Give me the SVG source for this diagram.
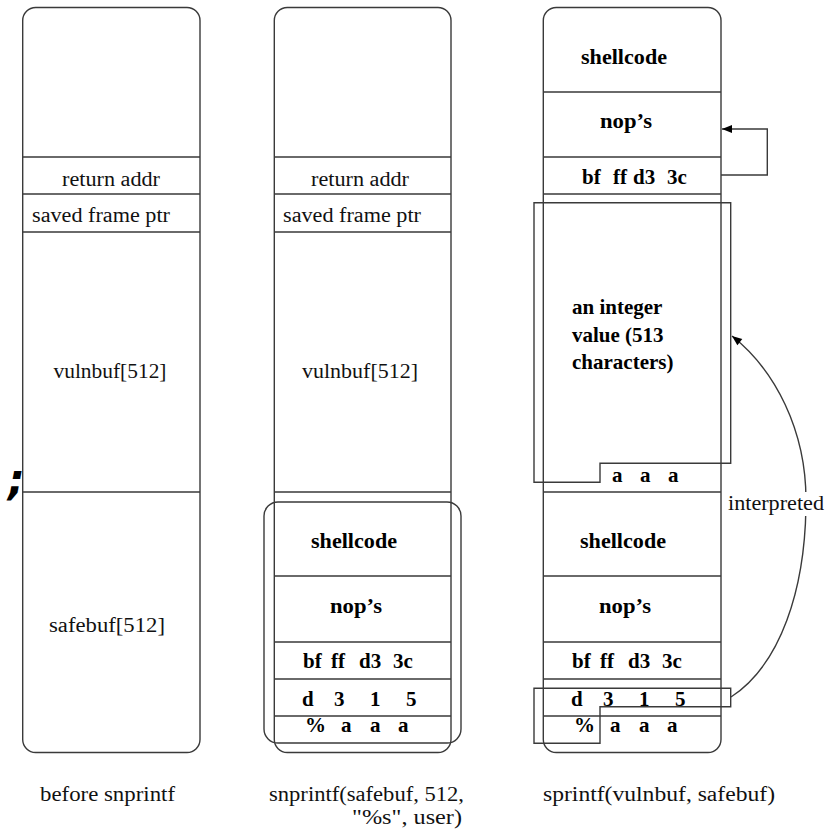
<svg xmlns="http://www.w3.org/2000/svg" width="834" height="832" viewBox="0 0 834 832">
<defs>
<style>
.col{fill:#fff;stroke:#3a3a3a;stroke-width:1.4}
.div{stroke:#3a3a3a;stroke-width:1.4;fill:none}
.ov{fill:none;stroke:#3a3a3a;stroke-width:1.4}
.r{font-family:"Liberation Serif","Times New Roman",serif;font-size:20px;fill:#111}
.b{font-family:"Liberation Serif","Times New Roman",serif;font-size:21px;font-weight:bold;fill:#000}
.m{text-anchor:middle}
</style>
<marker id="ah" viewBox="0 0 10 10" refX="10" refY="5" markerWidth="16" markerHeight="10" markerUnits="userSpaceOnUse" orient="auto">
<path d="M0,1 L10,5 L0,9 z" fill="#000"/>
</marker>
</defs>
<rect width="834" height="832" fill="#fff"/>
<text x="8" y="494" style="font-family:'DejaVu Sans',sans-serif;font-size:42px;font-weight:bold;font-style:italic" fill="#000">;</text>

<g id="col1">
<rect class="col" x="22.7" y="7.5" width="177.3" height="745" rx="13"/>
<path class="div" d="M22.7 157H200M22.7 194H200M22.7 232H200M22.7 492H200"/>
<text class="r m" x="111" y="186" textLength="98" lengthAdjust="spacingAndGlyphs">return addr</text>
<text class="r m" x="101" y="222" textLength="138" lengthAdjust="spacingAndGlyphs">saved frame ptr</text>
<text class="r m" x="110" y="378" textLength="113" lengthAdjust="spacingAndGlyphs">vulnbuf[512]</text>
<text class="r m" x="107" y="632" textLength="116" lengthAdjust="spacingAndGlyphs">safebuf[512]</text>
</g>

<g id="col2">
<rect class="col" x="274.3" y="7.5" width="176.7" height="745" rx="13"/>
<path class="div" d="M274.3 157H451M274.3 194H451M274.3 232H451M274.3 492H451M274.3 576H451M274.3 642H451M274.3 679H451M274.3 716H451"/>
<text class="r m" x="360" y="186" textLength="98" lengthAdjust="spacingAndGlyphs">return addr</text>
<text class="r m" x="352" y="222" textLength="138" lengthAdjust="spacingAndGlyphs">saved frame ptr</text>
<text class="r m" x="360" y="378" textLength="116" lengthAdjust="spacingAndGlyphs">vulnbuf[512]</text>
<text class="b m" x="354" y="548" textLength="86" lengthAdjust="spacingAndGlyphs">shellcode</text>
<text class="b m" x="356" y="613" textLength="52" lengthAdjust="spacingAndGlyphs">nop’s</text>
<text class="b" x="303" y="668">bf</text>
<text class="b" x="331" y="668">ff</text>
<text class="b" x="359" y="668">d3</text>
<text class="b" x="393" y="668">3c</text>
<text class="b" x="302" y="706">d</text>
<text class="b" x="334" y="706">3</text>
<text class="b" x="370" y="706">1</text>
<text class="b" x="406" y="706">5</text>
<text class="b" x="305" y="732">%</text>
<text class="b" x="341" y="732">a</text>
<text class="b" x="370" y="732">a</text>
<text class="b" x="398" y="732">a</text>
<rect class="ov" x="264" y="502" width="197" height="241" rx="14"/>
</g>

<g id="col3">
<rect class="col" x="543.3" y="7.5" width="177.7" height="745" rx="13"/>
<path class="div" d="M543.3 92H721M543.3 157H721M543.3 194H721M543.3 492H721M543.3 576H721M543.3 642H721M543.3 679H721M543.3 716H721"/>
<text class="b m" x="624" y="64" textLength="86" lengthAdjust="spacingAndGlyphs">shellcode</text>
<text class="b m" x="626" y="128" textLength="52" lengthAdjust="spacingAndGlyphs">nop’s</text>
<text class="b" x="582" y="184">bf</text>
<text class="b" x="613" y="184">ff</text>
<text class="b" x="633" y="184">d3</text>
<text class="b" x="667" y="184">3c</text>
<text class="b" x="572" y="314">an integer</text>
<text class="b" x="572" y="342">value (513</text>
<text class="b" x="572" y="369">characters)</text>
<text class="b" x="612" y="482">a</text>
<text class="b" x="640" y="482">a</text>
<text class="b" x="668" y="482">a</text>
<text class="b m" x="623" y="548" textLength="86" lengthAdjust="spacingAndGlyphs">shellcode</text>
<text class="b m" x="625" y="613" textLength="52" lengthAdjust="spacingAndGlyphs">nop’s</text>
<text class="b" x="572" y="668">bf</text>
<text class="b" x="600" y="668">ff</text>
<text class="b" x="628" y="668">d3</text>
<text class="b" x="662" y="668">3c</text>
<text class="b" x="571" y="706">d</text>
<text class="b" x="603" y="706">3</text>
<text class="b" x="639" y="706">1</text>
<text class="b" x="675" y="706">5</text>
<text class="b" x="574" y="732">%</text>
<text class="b" x="610" y="732">a</text>
<text class="b" x="639" y="732">a</text>
<text class="b" x="667" y="732">a</text>
<path class="ov" d="M534 202.7H730.7V463.3H600V482.3H534Z"/>
<path class="ov" d="M534 688.3H730.7V706.7H600V743.3H534Z"/>
</g>

<g id="connectors">
<path d="M721 175H767.3V129H722" fill="none" stroke="#3a3a3a" stroke-width="1.4" marker-end="url(#ah)"/>
<path d="M731 697C780 665 806 590 806 500C806 430 775 370 732 336" fill="none" stroke="#3a3a3a" stroke-width="1.4" marker-end="url(#ah)"/>
<rect x="727" y="492" width="98" height="24" fill="#fff"/>
<text class="r" x="728" y="510" textLength="96" lengthAdjust="spacingAndGlyphs">interpreted</text>
</g>

<g id="captions">
<text class="r" x="40" y="801" textLength="135" lengthAdjust="spacingAndGlyphs">before snprintf</text>
<text class="r" x="269" y="801" textLength="195" lengthAdjust="spacingAndGlyphs">snprintf(safebuf, 512,</text>
<text class="r" x="352" y="824" textLength="110" lengthAdjust="spacingAndGlyphs">"%s", user)</text>
<text class="r" x="543" y="801" textLength="232" lengthAdjust="spacingAndGlyphs">sprintf(vulnbuf, safebuf)</text>
</g>
</svg>
